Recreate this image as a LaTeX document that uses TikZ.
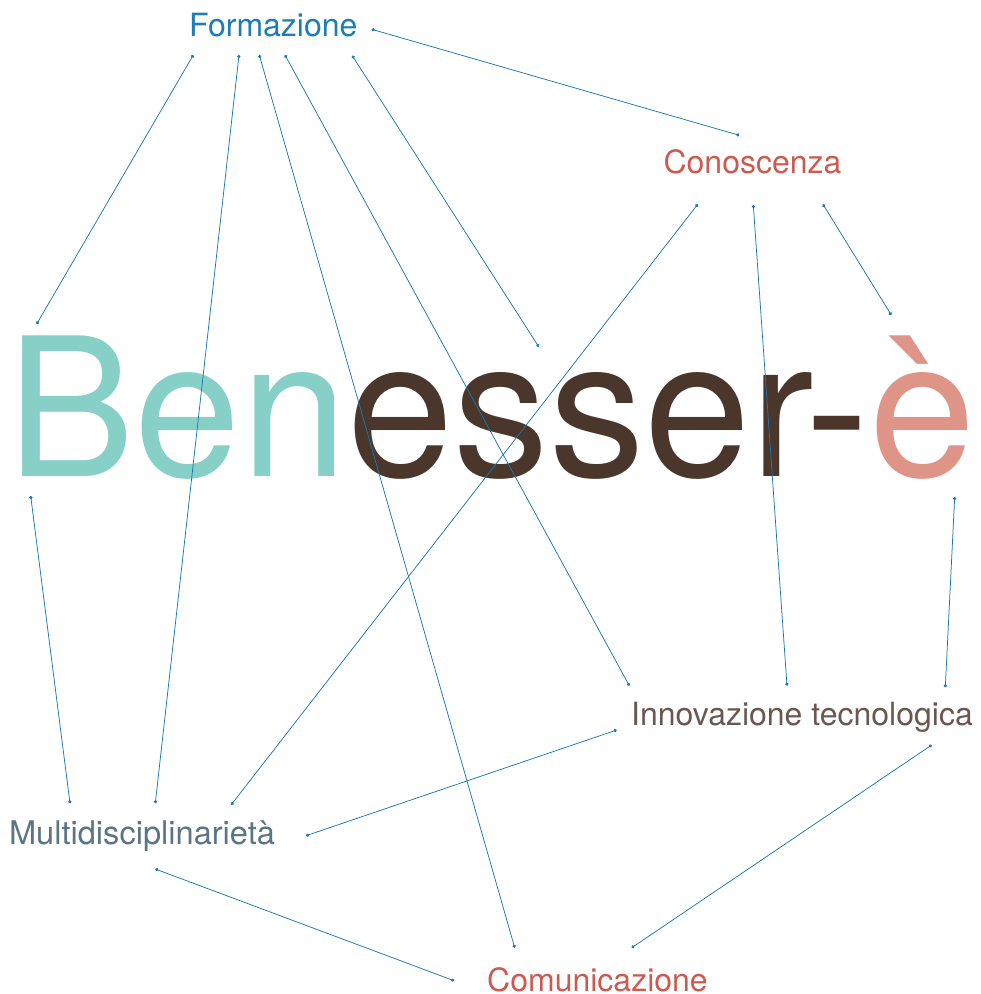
\documentclass[tikz,border=0pt]{standalone}
\usepackage{fontspec}
\setmainfont{TeX Gyre Heros}
\usepackage{graphicx}
\usetikzlibrary{arrows.meta}
\definecolor{lineblue}{HTML}{1A77B0}
\definecolor{formblue}{HTML}{1F7DB5}
\definecolor{conored}{HTML}{CD5A50}
\definecolor{innobrown}{HTML}{6B5750}
\definecolor{multislate}{HTML}{5B7585}
\definecolor{benteal}{HTML}{87D0C7}
\definecolor{essbrown}{HTML}{4A362B}
\definecolor{esalmon}{HTML}{DF9488}
\tikzset{
  label text/.style={inner sep=0pt, anchor=base, font=\fontsize{32}{36}\selectfont},
  link/.style={draw=lineblue, line width=0.75pt, {Circle[length=3.2pt]}-{Circle[length=3.2pt]}}
}
\begin{document}
\begin{tikzpicture}[x=1pt, y=-1pt]
\useasboundingbox (0,0) rectangle (981,994);
% text nodes
\node[label text, text=formblue] (form) at (273.3,36.7) {Formazione};
\node[label text, text=conored] (cono) at (752.5,173.3) {Conoscenza};
\node[label text, text=innobrown] (inno) at (802,725.7) {Innovazione tecnologica};
\node[label text, text=multislate, font=\fontsize{32.6}{36}\selectfont] (multi) at (142,844.3) {Multidisciplinarietà};
\node[label text, text=conored] (comu) at (597.5,991.2) {Comunicazione};
\node[inner sep=0pt, anchor=base, font=\fontsize{193}{200}\selectfont] (ben) at (491.5,476.7)
  {\scalebox{0.99}[1]{{\color{benteal}Ben}{\color{essbrown}esser-}{\color{esalmon}è}}};
% connector end points
\coordinate (fA) at (371.7,29.3);
\coordinate (fB) at (193.3,55);
\coordinate (fC) at (239,55);
\coordinate (fD) at (259.3,55);
\coordinate (fE) at (285,55);
\coordinate (fF) at (352.3,55.7);
\coordinate (cA) at (739.3,135.3);
\coordinate (cB) at (697.7,204.3);
\coordinate (cC) at (753.3,205);
\coordinate (cD) at (823,204.3);
\coordinate (bA) at (36.7,324);
\coordinate (bB) at (538.7,346.7);
\coordinate (bC) at (891.3,315);
\coordinate (bD) at (30.7,496);
\coordinate (bE) at (954.7,497);
\coordinate (iA) at (629.3,685.7);
\coordinate (iB) at (787,685.7);
\coordinate (iC) at (945.3,687.3);
\coordinate (iD) at (616.7,730);
\coordinate (iE) at (931.7,745);
\coordinate (mA) at (70,803.3);
\coordinate (mB) at (155.3,803.3);
\coordinate (mC) at (231.3,804.7);
\coordinate (mD) at (306,835.7);
\coordinate (mE) at (155.3,869);
\coordinate (kA) at (514.7,947.7);
\coordinate (kB) at (631.7,947.7);
\coordinate (kC) at (454,980.7);
% connectors
\draw[link] (fA) -- (cA);
\draw[link] (fB) -- (bA);
\draw[link] (fC) -- (mB);
\draw[link] (fD) -- (kA);
\draw[link] (fE) -- (iA);
\draw[link] (fF) -- (bB);
\draw[link] (cB) -- (mC);
\draw[link] (cC) -- (iB);
\draw[link] (cD) -- (bC);
\draw[link] (bD) -- (mA);
\draw[link] (bE) -- (iC);
\draw[link] (iD) -- (mD);
\draw[link] (iE) -- (kB);
\draw[link] (mE) -- (kC);
\end{tikzpicture}
\end{document}
